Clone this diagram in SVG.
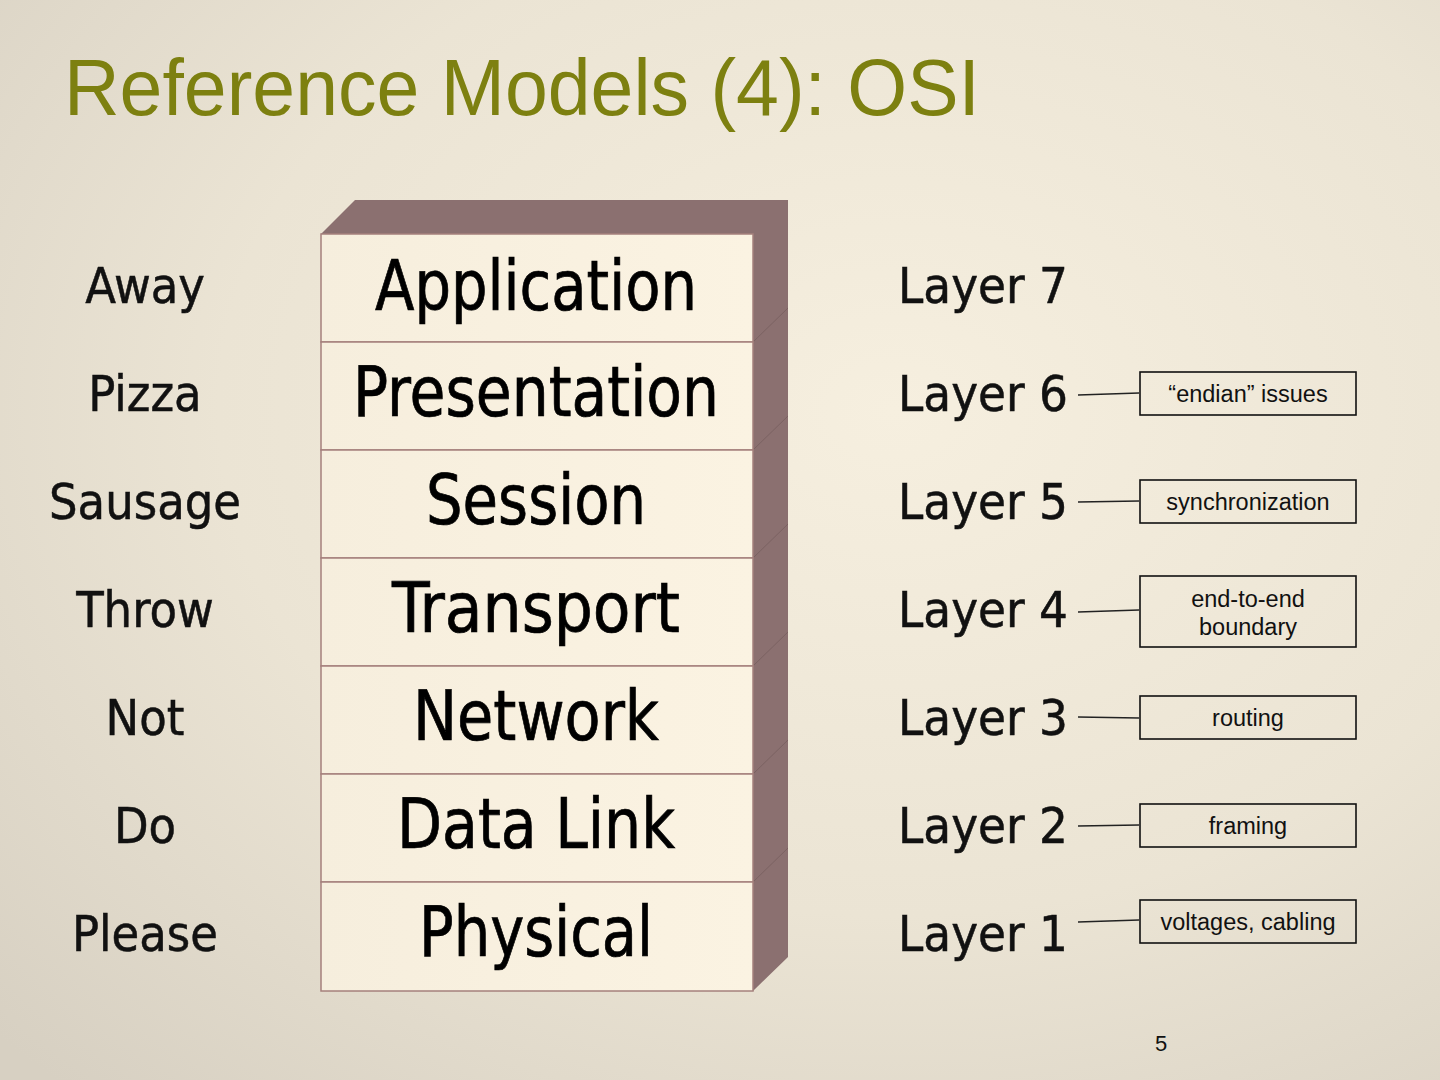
<svg xmlns="http://www.w3.org/2000/svg" width="1440" height="1080" viewBox="0 0 1440 1080">
<defs>
<radialGradient id="bg" cx="0.62" cy="0.38" r="0.85">
<stop offset="0" stop-color="#f6efdf"/>
<stop offset="0.55" stop-color="#ebe4d4"/>
<stop offset="1" stop-color="#d7d0c2"/>
</radialGradient>
<linearGradient id="cell" x1="0" y1="0" x2="1" y2="0">
<stop offset="0" stop-color="#f6eedd"/>
<stop offset="1" stop-color="#fbf3e2"/>
</linearGradient>
<style>
.cell{fill:url(#cell);stroke:#a5807c;stroke-width:1.5}
.side{fill:#8b7070}
.seam{stroke:#7b6262;stroke-width:1;fill:none}
.lbl{font-family:"DejaVu Sans Condensed","DejaVu Sans",sans-serif;font-size:70px;fill:#000;stroke:#000;stroke-width:0.7;text-anchor:middle}
.mn{font-family:"DejaVu Sans Condensed","DejaVu Sans",sans-serif;font-size:50px;fill:#111;stroke:#111;stroke-width:0.5;text-anchor:middle}
.ly{font-family:"DejaVu Sans Condensed","DejaVu Sans",sans-serif;font-size:50px;fill:#111;stroke:#111;stroke-width:0.5}
.box{fill:none;stroke:#111;stroke-width:1.6}
.bt{font-family:"Liberation Sans",Arial,sans-serif;font-size:23.5px;fill:#111;text-anchor:middle}
.con line{stroke:#222;stroke-width:1.3}
</style>
</defs>
<rect width="1440" height="1080" fill="url(#bg)"/>
<text x="64" y="115" font-family="'Liberation Sans Narrow','Liberation Sans',Arial,sans-serif" font-size="79" fill="#7d8010" textLength="916" lengthAdjust="spacingAndGlyphs">Reference Models (4): OSI</text>

<g id="stack">
<polygon class="side" points="321,234 355,200 788,200 788,957 753,991 753,234"/>
<line class="seam" x1="753" y1="342" x2="788" y2="308"/>
<line class="seam" x1="753" y1="450" x2="788" y2="416"/>
<line class="seam" x1="753" y1="558" x2="788" y2="524"/>
<line class="seam" x1="753" y1="666" x2="788" y2="632"/>
<line class="seam" x1="753" y1="774" x2="788" y2="740"/>
<line class="seam" x1="753" y1="882" x2="788" y2="848"/>
</g>

<g id="application"><rect class="cell" x="321" y="234" width="432" height="108"/><text class="lbl" x="536" y="310" textLength="322" lengthAdjust="spacingAndGlyphs">Application</text></g>
<g id="presentation"><rect class="cell" x="321" y="342" width="432" height="108"/><text class="lbl" x="536" y="416" textLength="366" lengthAdjust="spacingAndGlyphs">Presentation</text></g>
<g id="session"><rect class="cell" x="321" y="450" width="432" height="108"/><text class="lbl" x="536" y="524" textLength="220" lengthAdjust="spacingAndGlyphs">Session</text></g>
<g id="transport"><rect class="cell" x="321" y="558" width="432" height="108"/><text class="lbl" x="536" y="632" textLength="288" lengthAdjust="spacingAndGlyphs">Transport</text></g>
<g id="network"><rect class="cell" x="321" y="666" width="432" height="108"/><text class="lbl" x="536" y="740" textLength="246" lengthAdjust="spacingAndGlyphs">Network</text></g>
<g id="datalink"><rect class="cell" x="321" y="774" width="432" height="108"/><text class="lbl" x="536" y="848" textLength="278" lengthAdjust="spacingAndGlyphs">Data Link</text></g>
<g id="physical"><rect class="cell" x="321" y="882" width="432" height="109"/><text class="lbl" x="536" y="956" textLength="234" lengthAdjust="spacingAndGlyphs">Physical</text></g>

<g id="mnemonic">
<text class="mn" x="145" y="303">Away</text>
<text class="mn" x="145" y="411">Pizza</text>
<text class="mn" x="145" y="519">Sausage</text>
<text class="mn" x="145" y="627">Throw</text>
<text class="mn" x="145" y="735">Not</text>
<text class="mn" x="145" y="843">Do</text>
<text class="mn" x="145" y="951">Please</text>
</g>

<g id="layers">
<text class="ly" x="898" y="303" textLength="170" lengthAdjust="spacingAndGlyphs">Layer 7</text>
<text class="ly" x="898" y="411" textLength="170" lengthAdjust="spacingAndGlyphs">Layer 6</text>
<text class="ly" x="898" y="519" textLength="170" lengthAdjust="spacingAndGlyphs">Layer 5</text>
<text class="ly" x="898" y="627" textLength="170" lengthAdjust="spacingAndGlyphs">Layer 4</text>
<text class="ly" x="898" y="735" textLength="170" lengthAdjust="spacingAndGlyphs">Layer 3</text>
<text class="ly" x="898" y="843" textLength="170" lengthAdjust="spacingAndGlyphs">Layer 2</text>
<text class="ly" x="898" y="951" textLength="170" lengthAdjust="spacingAndGlyphs">Layer 1</text>
</g>

<g id="connectors" class="con">
<line x1="1078" y1="395" x2="1139" y2="393"/>
<line x1="1078" y1="502" x2="1139" y2="501"/>
<line x1="1078" y1="612" x2="1139" y2="610"/>
<line x1="1078" y1="717" x2="1139" y2="718"/>
<line x1="1078" y1="826" x2="1139" y2="825"/>
<line x1="1078" y1="922" x2="1139" y2="920"/>
</g>

<g id="note-endian"><rect class="box" x="1140" y="372" width="216" height="43"/><text class="bt" x="1248" y="402">“endian” issues</text></g>
<g id="note-sync"><rect class="box" x="1140" y="480" width="216" height="43"/><text class="bt" x="1248" y="510">synchronization</text></g>
<g id="note-e2e"><rect class="box" x="1140" y="576" width="216" height="71"/><text class="bt" x="1248" y="607">end-to-end</text><text class="bt" x="1248" y="635">boundary</text></g>
<g id="note-routing"><rect class="box" x="1140" y="696" width="216" height="43"/><text class="bt" x="1248" y="726">routing</text></g>
<g id="note-framing"><rect class="box" x="1140" y="804" width="216" height="43"/><text class="bt" x="1248" y="834">framing</text></g>
<g id="note-volt"><rect class="box" x="1140" y="900" width="216" height="43"/><text class="bt" x="1248" y="930">voltages, cabling</text></g>

<text x="1161" y="1051" font-family="'Liberation Sans',Arial,sans-serif" font-size="22" fill="#111" text-anchor="middle">5</text>
</svg>
